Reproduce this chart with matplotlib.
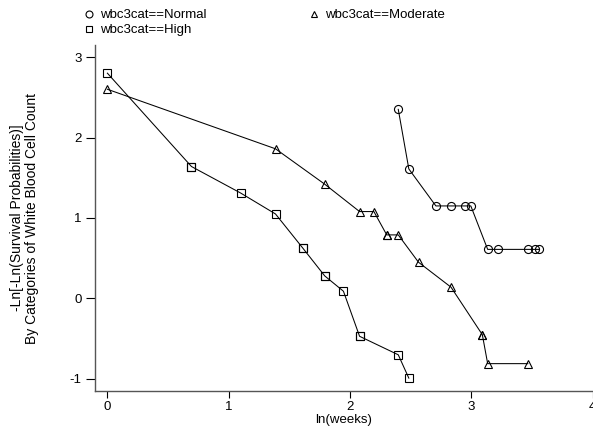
import matplotlib
matplotlib.use('Agg')
import matplotlib.pyplot as plt

plt.rcParams['font.family'] = ['Liberation Sans', 'DejaVu Sans']
plt.rcParams['axes.unicode_minus'] = False

# ln(weeks) and -ln(-ln(S))
normal_x = [2.398, 2.485, 2.708, 2.833, 2.944, 2.996, 3.135, 3.219, 3.466, 3.526, 3.555]
normal_y = [2.35, 1.61, 1.15, 1.15, 1.15, 1.15, 0.61, 0.61, 0.61, 0.61, 0.61]

moderate_x = [0.0, 1.386, 1.792, 2.079, 2.197, 2.303, 2.303, 2.398, 2.565, 2.833, 3.091, 3.091, 3.135, 3.466]
moderate_y = [2.60, 1.86, 1.42, 1.08, 1.08, 0.79, 0.79, 0.79, 0.45, 0.14, -0.45, -0.45, -0.81, -0.81]

high_x = [0.0, 0.693, 0.693, 1.099, 1.386, 1.609, 1.609, 1.792, 1.792, 1.946, 2.079, 2.079, 2.398, 2.485]
high_y = [2.80, 1.64, 1.64, 1.31, 1.05, 0.63, 0.63, 0.28, 0.28, 0.09, -0.47, -0.47, -0.70, -0.99]

xticks = [0, 1, 2, 3, 4]
yticks = [-1, 0, 1, 2, 3]

fig = plt.figure(figsize=(5.93, 4.30), dpi=100)
ax = fig.add_axes([95/593, 39/430, 497.6/593, 346/430])

style = dict(color='black', lw=0.75, mfc='none', mec='black', mew=0.8)
l1, = ax.plot(normal_x, normal_y, marker='o', ms=5.8, label='wbc3cat==Normal', **style)
l2, = ax.plot(moderate_x, moderate_y, marker='^', ms=5.8, label='wbc3cat==Moderate', **style)
l3, = ax.plot(high_x, high_y, marker='s', ms=5.4, label='wbc3cat==High', **style)

ax.set_xlim(-0.102, 4.0)
ax.set_ylim(-1.15, 3.15)
ax.set_xticks(xticks)
ax.set_yticks(yticks)
ax.spines['top'].set_visible(False)
ax.spines['right'].set_visible(False)
for s in ['left', 'bottom']:
    ax.spines[s].set_color('#555555')
    ax.spines[s].set_linewidth(1.0)
ax.tick_params(axis='y', length=6.5, width=0.8, pad=3, labelsize=9.5)
ax.tick_params(axis='x', length=5, width=0.8, pad=2, labelsize=9.5)

ax.set_xlabel('ln(weeks)', fontsize=9.5, labelpad=1)
ax.set_ylabel('-Ln[-Ln(Survival Probabilities)]\nBy Categories of White Blood Cell Count',
              fontsize=10, linespacing=1.1)
ax.yaxis.set_label_coords(-0.112, 0.5)

leg = fig.legend(handles=[l1, l3, l2], ncol=2, frameon=False,
                 loc='upper left', bbox_to_anchor=(80/593, 1.0),
                 fontsize=9.5, handlelength=0, handletextpad=0.8,
                 columnspacing=8.2, labelspacing=0.2, borderaxespad=0.3)
for h in leg.legend_handles:
    h.set_linestyle('none')
    h.set_markersize(5)

fig.savefig('out.png', dpi=100)
